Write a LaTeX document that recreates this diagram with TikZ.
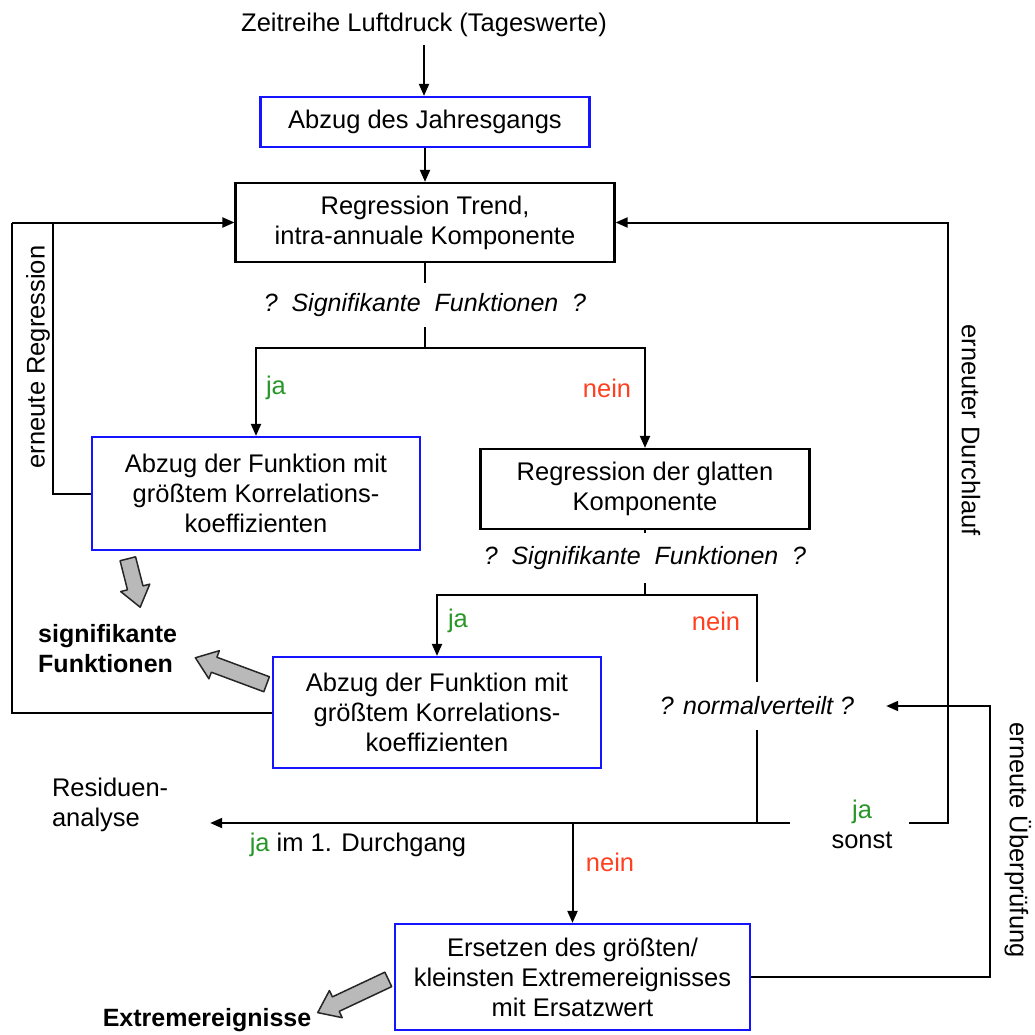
\documentclass[tikz,border=0pt]{standalone}
\usepackage{fontspec}
\setmainfont{Liberation Sans}
\usetikzlibrary{arrows.meta}
\definecolor{jagreen}{RGB}{40,150,40}
\definecolor{neinred}{RGB}{255,64,32}
\definecolor{boxblue}{RGB}{20,20,255}
\newcommand\grayblock[3]{%
  \begin{scope}[shift={#1},rotate=#2]
    \draw[blockarr] (-#3/2,-8) -- (#3/2-20,-8) -- (#3/2-20,-15) -- (#3/2,0)
      -- (#3/2-20,15) -- (#3/2-20,8) -- (-#3/2,8) -- cycle;
  \end{scope}}
\begin{document}
\begin{tikzpicture}[x=1pt,y=-1pt,
  txt/.style={font=\fontsize{25.5}{30}\selectfont, align=center, inner sep=0pt},
  lbl/.style={txt, font=\fontsize{25}{30}\selectfont\itshape},
  bluebox/.style={txt, draw=boxblue, line width=2.2pt},
  blackbox/.style={txt, draw=black, line width=2.2pt},
  conn/.style={line width=2pt, draw=black},
  arr/.style={conn, -{Triangle[length=12pt,width=10pt]}},
  blockarr/.style={draw=gray!30!black, fill=gray!55, line width=1.5pt, line join=round},
  boldtxt/.style={txt, font=\fontsize{25}{30}\selectfont\bfseries},
]
\useasboundingbox (0,0) rectangle (1034,1035);

% nodes
\node[txt] (title) at (424,25) {Zeitreihe Luftdruck (Tageswerte)};
\node[bluebox, minimum width=329pt, minimum height=50pt] (b1) at (425,122) {Abzug des Jahresgangs};
\node[blackbox, minimum width=379pt, minimum height=79pt] (b2) at (425,222.5) {Regression Trend,\\intra-annuale Komponente};
\node[lbl, minimum height=44pt] (q1) at (425,305) {?~~Signifikante~~Funktionen~~?};
\coordinate (j1) at (425,348);
\node[bluebox, minimum width=328pt, minimum height=113pt] (b3) at (256,493.5) {Abzug der Funktion mit\\größtem Korrelations-\\koeffizienten};
\node[blackbox, minimum width=329pt, minimum height=80pt] (b4) at (645,489) {Regression der glatten\\Komponente};
\node[lbl, minimum height=50pt] (q2) at (645,558) {?~~Signifikante~~Funktionen~~?};
\coordinate (j2) at (645,595);
\node[bluebox, minimum width=328pt, minimum height=111pt] (b5) at (437,712.5) {Abzug der Funktion mit\\größtem Korrelations-\\koeffizienten};
\node[lbl, minimum height=48pt, inner xsep=32pt] (q3) at (757,706) {? normalverteilt ?};
\coordinate (jr) at (790,823);
\node[txt, text width=158pt, align=left] (resid) at (131,805) {Residuen-\\analyse};
\node[txt] (dg) at (358,845) {\textcolor{jagreen}{ja} im 1. Durchgang};
\node[bluebox, minimum width=355pt, minimum height=106pt] (b6) at (572.5,977) {Ersetzen des größten/\\kleinsten Extremereignisses\\mit Ersatzwert};
\node[txt] (js) at (862,824) {\textcolor{jagreen}{ja}\\sonst};
\coordinate (sr) at (909,823);
\coordinate (dr) at (948,823);
\coordinate (dr2) at (990,977);
\coordinate (l1) at (53,222.5);
\coordinate (l2) at (12,222.5);
\node[boldtxt, align=left, anchor=west] (sig) at (38,649) {signifikante\\Funktionen};
\node[boldtxt] (ext) at (207,1020) {Extremereignisse};

% labels
\node[txt, text=jagreen] (ja1) at (276,388) {ja};
\node[txt, text=neinred] (nein1) at (607,388) {nein};
\node[txt, text=jagreen] (ja2) at (458,621) {ja};
\node[txt, text=neinred] (nein2) at (716,621) {nein};
\node[txt, text=neinred] (nein3) at (610,862) {nein};
\node[txt, rotate=90] (ereg) at (38,357) {erneute Regression};
\node[txt, rotate=-90] (edur) at (971,430) {erneuter Durchlauf};
\node[txt, rotate=-90] (eueb) at (1018,840) {erneute Überprüfung};

% connectors
\draw[arr] (title.south) ++(0,8) -- (title.south |- b1.north);
\draw[arr] (b1.south) -- (b2.north);
\draw[conn] (b2.south) -- (q1.north);
\draw[conn] (q1.south) -- (j1);
\draw[arr] (j1) -| (b3.north);
\draw[arr] (j1) -| (b4.north);
\draw[conn] (b4.south) -- (q2.north);
\draw[conn] (q2.south) -- (j2);
\draw[arr] (j2) -| (b5.north);
\draw[conn] (j2) -| (q3.north);
\draw[conn] (q3.south) |- (jr);
\draw[arr] (jr) -- (resid.east |- jr);
\draw[arr] (b6.north |- jr) -- (b6.north);
\draw[arr] (sr) -- (dr) |- (b2.east);
\draw[arr] (b6.east) -- (dr2) |- (q3.east);
\draw[conn] (b3.west) -| (l1);
\draw[conn] (b5.west) -| (l2);
\draw[arr] (l2) -- (b2.west);

% gray block arrows
\grayblock{(134,583)}{-75.7}{50}
\grayblock{(231,671)}{159.6}{76}
\grayblock{(353,996)}{205.2}{78}
\end{tikzpicture}
\end{document}
